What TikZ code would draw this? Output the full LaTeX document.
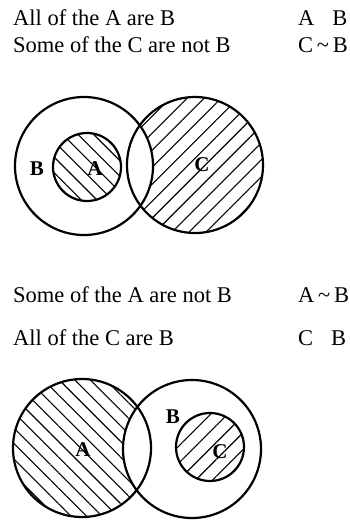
\documentclass[tikz,border=0pt]{standalone}
\usepackage{fontspec}
\setmainfont{Liberation Serif}
\usetikzlibrary{patterns.meta}

\begin{document}
\begin{tikzpicture}[x=1pt, y=-1pt,
    ring/.style={draw, line width=2.2pt},
    stmt/.style={anchor=base west, inner sep=0pt, font=\fontsize{22.5}{27}\selectfont},
    setlabel/.style={inner sep=0pt, font=\fontsize{21}{25}\selectfont\bfseries},
    hatchNE/.style={pattern={Lines[angle=45, distance=12pt, line width=1.1pt]}},
    hatchNW/.style={pattern={Lines[angle=-45, distance=11pt, line width=1.1pt]}}
]
\useasboundingbox (0,0) rectangle (349,523);

\node[stmt] (allAB) at (13,25) {All of the A are B};
\node[stmt] (someCnotB) at (13,52) {Some of the C are not B};
\node[stmt] (symAB) at (298,25) {A\hspace{18pt}B};
\node[stmt] (symCnB) at (298,52) {C\,\textasciitilde\,B};

\fill[hatchNE] (195,165) circle (68);
\begin{scope}
    \clip (84,166) circle (69);
    \fill[white] (195,165) circle (68);
\end{scope}
\fill[hatchNW] (87,167) circle (34);
\draw[ring] (84,166) circle (69);
\draw[ring] (87,167) circle (34);
\draw[ring] (195,165) circle (68);
\node[setlabel] (topB) at (37,169) {B};
\node[setlabel] (topA) at (95,169) {A};
\node[setlabel] (topC) at (202,165) {C};

\node[stmt] (someAnotB) at (13,302) {Some of the A are not B};
\node[stmt] (allCB) at (13,345) {All of the C are B};
\node[stmt] (symAnB) at (298,302) {A\,\textasciitilde\,B};
\node[stmt] (symCB) at (298,345) {C\hspace{18pt}B};

\fill[hatchNW] (82,448) circle (69);
\begin{scope}
    \clip (192,449) circle (69);
    \fill[white] (82,448) circle (69);
\end{scope}
\fill[hatchNE] (210,447) circle (34);
\draw[ring] (82,448) circle (69);
\draw[ring] (192,449) circle (69);
\draw[ring] (210,447) circle (34);
\node[setlabel] (botA) at (83,450) {A};
\node[setlabel] (botB) at (173,417) {B};
\node[setlabel] (botC) at (220,452) {C};
\end{tikzpicture}
\end{document}
